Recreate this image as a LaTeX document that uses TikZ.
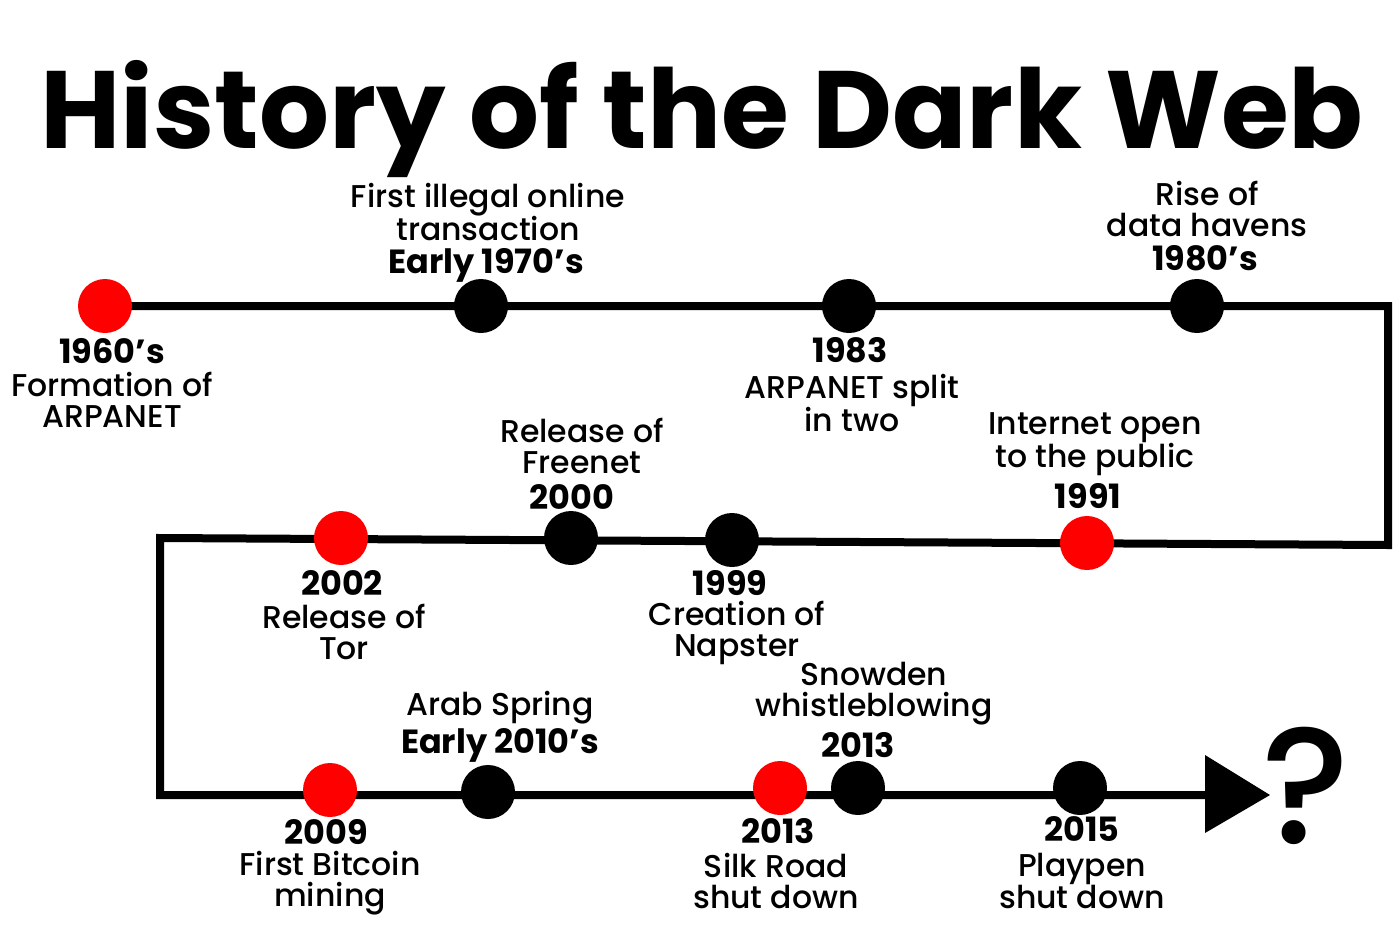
\documentclass[tikz,border=0pt]{standalone}
\usepackage{fontspec}
\setmainfont{Poppins}[UprightFont={* Medium},BoldFont={* Bold}]
\usetikzlibrary{backgrounds,calc}
\begin{document}
\begin{tikzpicture}[x=1pt,y=-1pt,
  dotb/.style={circle,fill=black,minimum size=54pt,inner sep=0pt},
  dotr/.style={circle,fill=red,minimum size=54pt,inner sep=0pt},
  lbl/.style={align=center,font=\fontsize{31.5}{31}\selectfont,inner sep=0pt},
  yr/.style={font=\fontsize{33.5}{31}\selectfont\bfseries,inner sep=0pt},
  track/.style={line width=8pt,line join=miter}]
\useasboundingbox (0,0) rectangle (1400,924);
\node[inner sep=0pt,font=\fontsize{110}{110}\selectfont\bfseries] (title) at (702,119) {History of the Dark Web};
% row 1
\node[dotr] (a1) at (105,306) {};
\node[dotb] (a2) at (481,306) {};
\node[dotb] (a3) at (849,306) {};
\node[dotb] (a4) at (1197,306) {};
% row 2
\node[dotr] (b4) at (341,538) {};
\node[dotb] (b3) at (571,538) {};
\node[dotb] (b2) at (732,540) {};
\node[dotr] (b1) at (1087,543) {};
% row 3
\node[dotr] (c1) at (330,790) {};
\node[dotb] (c2) at (488,792) {};
\node[dotr] (c3) at (780,788) {};
\node[dotb] (c4) at (858,788) {};
\node[dotb] (c5) at (1080,788) {};
\coordinate (k1) at (1388,306);
\coordinate (k2) at (1388,545);
\coordinate (k3) at (160,538);
\coordinate (k4) at (160,795);
\coordinate (k5) at (1205,795);
\coordinate (tip) at (1270,795);
\begin{pgfonlayer}{background}
\draw[track] (a1.center) -- (k1) -- (k2) -- (k3) -- (k4) -- (k5);
\fill ($(k5)+(0,-40)$) -- (tip) -- ($(k5)+(0,38)$) -- cycle;
\end{pgfonlayer}
\node[inner sep=0pt,font=\fontsize{165}{165}\selectfont] (q) at (1306,786) {?};
% labels row 1
\node[lbl] (t2) at (488,212) {First illegal online\\transaction};
\node[yr] (y2) at (486,265) {Early 1970’s};
\node[yr] (y1) at (112,351) {1960’s};
\node[lbl] (t1) at (112,400) {Formation of\\ARPANET};
\node[yr] (y3) at (850,350) {1983};
\node[lbl] (t3) at (852,403) {ARPANET split\\in two};
\node[lbl] (t4) at (1207,209) {Rise of\\data havens};
\node[yr] (y4) at (1205,258) {1980’s};
% labels row 2
\node[lbl] (t5) at (582,446) {Release of\\Freenet};
\node[yr] (y5) at (572,497) {2000};
\node[lbl] (t6) at (1095,444) {Internet open\\to the public};
\node[yr] (y6) at (1088,496) {1991};
\node[yr] (y7) at (342,583) {2002};
\node[lbl] (t7) at (344,632) {Release of\\Tor};
\node[yr] (y8) at (730,583) {1999};
\node[lbl] (t8) at (737,633) {Creation of\\Napster};
% labels row 3
\node[lbl] (t9) at (874,694) {Snowden\\whistleblowing};
\node[yr] (y9) at (858,745) {2013};
\node[lbl] (t10) at (500,708) {Arab Spring};
\node[yr] (y10) at (500,745) {Early 2010’s};
\node[yr] (y11) at (326,832) {2009};
\node[lbl] (t11) at (330,883) {First Bitcoin\\mining};
\node[yr] (y12) at (778,831) {2013};
\node[lbl] (t12) at (776,881) {Silk Road\\shut down};
\node[yr] (y13) at (1082,829) {2015};
\node[lbl] (t13) at (1082,881) {Playpen\\shut down};
\end{tikzpicture}
\end{document}
